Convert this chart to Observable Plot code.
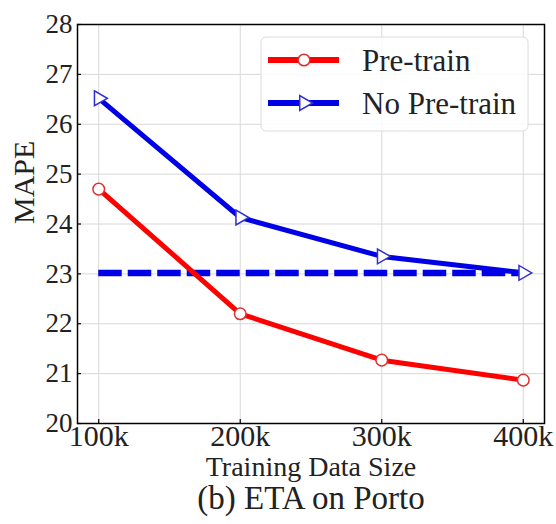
<!DOCTYPE html>
<html>
<head>
<meta charset="utf-8">
<script src="https://cdn.jsdelivr.net/npm/d3@7"></script>
<script src="https://cdn.jsdelivr.net/npm/@observablehq/plot@0.6"></script>
<style>
  html, body { margin: 0; padding: 0; background: #fff; }
  #chart { width: 556px; height: 524px; position: relative; }
</style>
</head>
<body>
<div id="chart"></div>
<script>
// ---- data ----
const sizes = [100, 200, 300, 400];            // training data size (k)
const sizeLabels = ["100k", "200k", "300k", "400k"];
const preTrain = [24.7, 22.2, 21.27, 20.87];    // MAPE, Pre-train
const noPreTrain = [26.52, 24.13, 23.35, 23.02]; // MAPE, No Pre-train
const baselineValue = 23.02;                   // dashed reference
const yTicks = [20, 21, 22, 23, 24, 25, 26, 27, 28];
const seriesNames = ["Pre-train", "No Pre-train"];

const serif = "Liberation Serif";
const red = "#ff0000", blue = "#0000e6";
const xDomain = [85, 415], yDomain = [20, 28];

const preData = sizes.map((s, i) => ({size: s, v: preTrain[i]}));
const noData = sizes.map((s, i) => ({size: s, v: noPreTrain[i]}));

const plot = Plot.plot({
  width: 556,
  height: 524,
  marginTop: 24,
  marginLeft: 77,
  marginRight: 12,
  marginBottom: 101,
  style: {fontFamily: serif, fontSize: "27px"},
  x: {domain: xDomain, ticks: sizes},
  y: {domain: yDomain, ticks: yTicks},
  marks: [
    Plot.gridX(sizes, {stroke: "#d8d8d8", strokeOpacity: 1, strokeWidth: 1}),
    Plot.gridY(yTicks, {stroke: "#d8d8d8", strokeOpacity: 1, strokeWidth: 1}),
    // small inward tick marks
    Plot.ruleX(sizes, {y1: yDomain[0], y2: yDomain[0] + 0.08, stroke: "black", strokeWidth: 1.2}),
    Plot.ruleY(yTicks, {x1: xDomain[0], x2: xDomain[0] + 2.8, stroke: "black", strokeWidth: 1.2}),
    Plot.axisX({ticks: sizes, tickSize: 0, tickPadding: 1, fontSize: 30, fontFamily: serif, label: null,
      tickFormat: d => sizeLabels[sizes.indexOf(d)], fill: "#222"}),
    Plot.axisY({ticks: yTicks, tickSize: 0, tickPadding: 5, fontSize: 27, fontFamily: serif, label: null, fill: "#222"}),
    Plot.ruleY([baselineValue], {x1: sizes[0], x2: sizes[sizes.length - 1], stroke: blue, strokeWidth: 6.5, strokeDasharray: "23.5,6"}),
    Plot.line(noData, {x: "size", y: "v", stroke: blue, strokeWidth: 5}),
    Plot.line(preData, {x: "size", y: "v", stroke: red, strokeWidth: 5}),
    Plot.dot(noData, {x: "size", y: "v", symbol: "triangle", rotate: 90, r: 5.5, fill: "white", stroke: "#3030d0", strokeWidth: 1.5}),
    Plot.dot(preData, {x: "size", y: "v", symbol: "circle", r: 5.8, fill: "white", stroke: "#e03030", strokeWidth: 1.5}),
    Plot.frame({stroke: "black", strokeWidth: 1.5}),
    Plot.text(["MAPE"], {frameAnchor: "left", rotate: -90, dx: -53, fontSize: 30, fontFamily: serif, fill: "#222"}),
    Plot.text(["Training Data Size"], {frameAnchor: "bottom", dy: 52, fontSize: 28, fontFamily: serif, fill: "#222"}),
    Plot.text(["(b) ETA on Porto"], {frameAnchor: "bottom", dy: 85, fontSize: 33, fontFamily: serif, fill: "#222"})
  ]
});

// legend
const svg = d3.select(plot);
const lg = svg.append("g").attr("font-family", serif).attr("text-anchor", "start");
lg.append("rect").attr("x", 261).attr("y", 37).attr("width", 267).attr("height", 94)
  .attr("rx", 5).attr("fill", "white").attr("fill-opacity", 0.85)
  .attr("stroke", "#dcdcdc").attr("stroke-width", 1);
const entries = [
  {name: seriesNames[0], color: red, mark: "circle", y: 60},
  {name: seriesNames[1], color: blue, mark: "triangle", y: 103}
];
entries.forEach(e => {
  lg.append("line").attr("x1", 268).attr("x2", 339).attr("y1", e.y).attr("y2", e.y)
    .attr("stroke", e.color).attr("stroke-width", 6);
  if (e.mark === "circle") {
    lg.append("circle").attr("cx", 304).attr("cy", e.y).attr("r", 5.8)
      .attr("fill", "white").attr("stroke", "#e03030").attr("stroke-width", 1.5);
  } else {
    lg.append("path").attr("d", d3.symbol(d3.symbolTriangle, Math.PI * 5.5 * 5.5)())
      .attr("transform", `translate(304,${e.y}) rotate(90)`)
      .attr("fill", "white").attr("stroke", "#3030d0").attr("stroke-width", 1.5);
  }
  lg.append("text").attr("x", 362).attr("y", e.y).attr("dy", "0.35em")
    .attr("font-size", 31).attr("fill", "#222").text(e.name);
});

document.getElementById("chart").appendChild(plot);
</script>
</body>
</html>
